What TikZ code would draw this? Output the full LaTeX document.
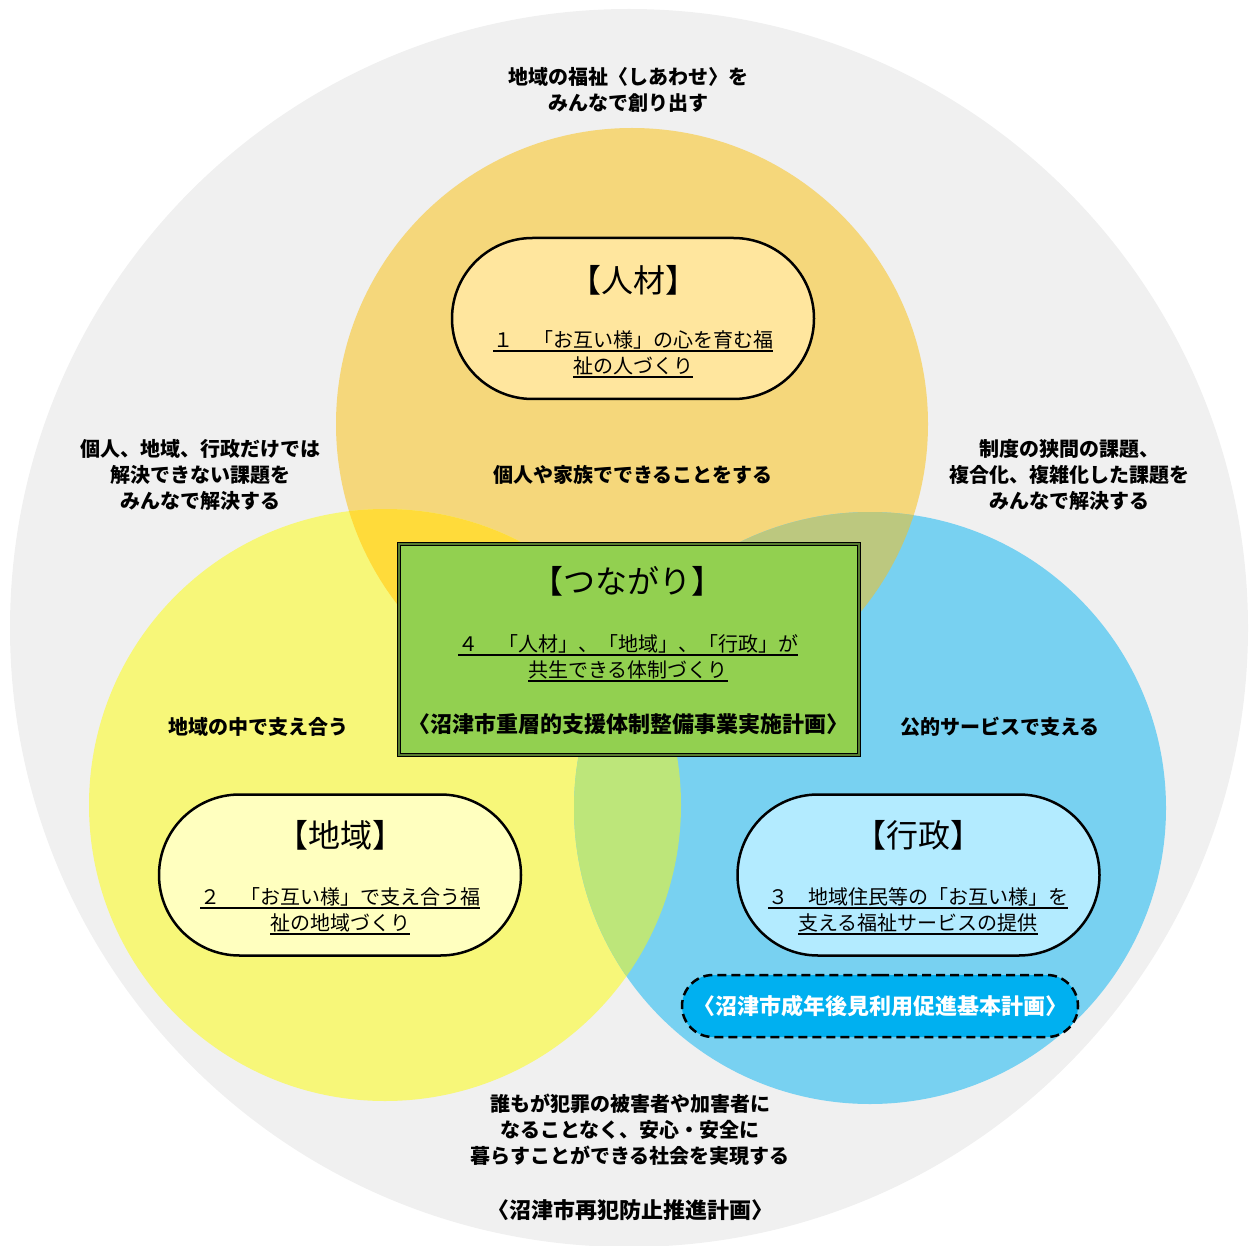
\documentclass[tikz,border=0pt]{standalone}
\usepackage{fontspec}
\setmainfont{Noto Sans CJK JP}
\usetikzlibrary{shapes.misc}
\definecolor{bgc}{HTML}{F0F0F0}
\definecolor{orc}{HTML}{F5D77B}
\definecolor{yec}{HTML}{F7F779}
\definecolor{blc}{HTML}{78D1F1}
\definecolor{oyc}{HTML}{FFDB3A}
\definecolor{obc}{HTML}{BCC87F}
\definecolor{ybc}{HTML}{BDE67A}
\definecolor{oybc}{HTML}{C8D060}
\definecolor{pillor}{HTML}{FFE69E}
\definecolor{pillye}{HTML}{FFFFBF}
\definecolor{pillbl}{HTML}{B3EBFF}
\definecolor{dashbl}{HTML}{00B0F0}
\definecolor{boxgr}{HTML}{92D050}
\newcommand\myul[1]{\sbox0{#1}\rlap{\rule[-4.5pt]{\wd0}{1.3pt}}\usebox0}
\tikzset{
  pill/.style={rounded rectangle, draw=black, line width=2.5pt, minimum width=362pt, minimum height=161pt, inner sep=0pt},
  lbl/.style={align=center, font=\fontsize{20}{26}\selectfont\bfseries, inner sep=0pt},
  plan/.style={align=center, font=\fontsize{22}{26}\selectfont\bfseries, inner sep=0pt},
  ttl/.style={font=\fontsize{32}{36}\selectfont, inner sep=0pt},
  sub/.style={align=center, font=\fontsize{20}{26}\selectfont, inner sep=0pt},
}
\begin{document}
\begin{tikzpicture}[x=1pt,y=-1pt]
\useasboundingbox (0,0) rectangle (1253,1246);
\fill[bgc] (629,628) circle[radius=619pt];
\fill[orc] (632,424) circle[radius=296pt];
\fill[yec] (385,805) circle[radius=296pt];
\fill[blc] (870,808) circle[radius=296pt];
\begin{scope}
  \clip (632,424) circle[radius=296pt];
  \fill[oyc] (385,805) circle[radius=296pt];
  \fill[obc] (870,808) circle[radius=296pt];
\end{scope}
\begin{scope}
  \clip (385,805) circle[radius=296pt];
  \fill[ybc] (870,808) circle[radius=296pt];
  \clip (870,808) circle[radius=296pt];
  \fill[oybc] (632,424) circle[radius=296pt];
\end{scope}
% pills
\node[pill, fill=pillor] (jinzai) at (633,318.5) {};
\node[pill, fill=pillye] (chiiki) at (340,875) {};
\node[pill, fill=pillbl] (gyosei) at (918.5,875) {};
\node[rounded rectangle, draw=black, dashed, dash pattern=on 9pt off 5pt, line width=2.5pt, fill=dashbl, minimum width=396pt, minimum height=62pt, inner sep=0pt] (seinen) at (880,1006) {};
% central box
\node[rectangle, draw=black, line width=1.2pt, double=boxgr!60!black, double distance=1.2pt, fill=boxgr, minimum width=460pt, minimum height=211pt, inner sep=0pt] (tsunagari) at (629,649.5) {};
% texts
\node[lbl] (t1) at (628,90) {地域の福祉〈しあわせ〉を\\みんなで創り出す};
\node[lbl] (t2) at (633,475) {個人や家族でできることをする};
\node[lbl] (t3) at (200,475) {個人、地域、行政だけでは\\解決できない課題を\\みんなで解決する};
\node[lbl] (t4) at (1069,475) {制度の狭間の課題、\\複合化、複雑化した課題を\\みんなで解決する};
\node[lbl] (t5) at (258,727) {地域の中で支え合う};
\node[lbl] (t6) at (1000,727) {公的サービスで支える};
\node[lbl] (t7) at (630,1130) {誰もが犯罪の被害者や加害者に\\なることなく、安心・安全に\\暮らすことができる社会を実現する};
\node[plan] (t8) at (630,1210) {〈沼津市再犯防止推進計画〉};
% pill texts
\node[ttl] (j1) at (633,280) {【人材】};
\node[sub] (j2) at (633,354) {\myul{１　「お互い様」の心を育む福}\\\myul{祉の人づくり}};
\node[ttl] (c1) at (340,835) {【地域】};
\node[sub] (c2) at (340,911) {\myul{２　「お互い様」で支え合う福}\\\myul{祉の地域づくり}};
\node[ttl] (g1) at (918,835) {【行政】};
\node[sub] (g2) at (918,911) {\myul{３　地域住民等の「お互い様」を}\\\myul{支える福祉サービスの提供}};
\node[plan, text=white] (s1) at (seinen) {〈沼津市成年後見利用促進基本計画〉};
\node[ttl] (n1) at (627,581) {【つながり】};
\node[sub] (n2) at (628,658) {\myul{４　「人材」、「地域」、「行政」が}\\\myul{共生できる体制づくり}};
\node[plan] (n3) at (628,724) {〈沼津市重層的支援体制整備事業実施計画〉};
\end{tikzpicture}
\end{document}
